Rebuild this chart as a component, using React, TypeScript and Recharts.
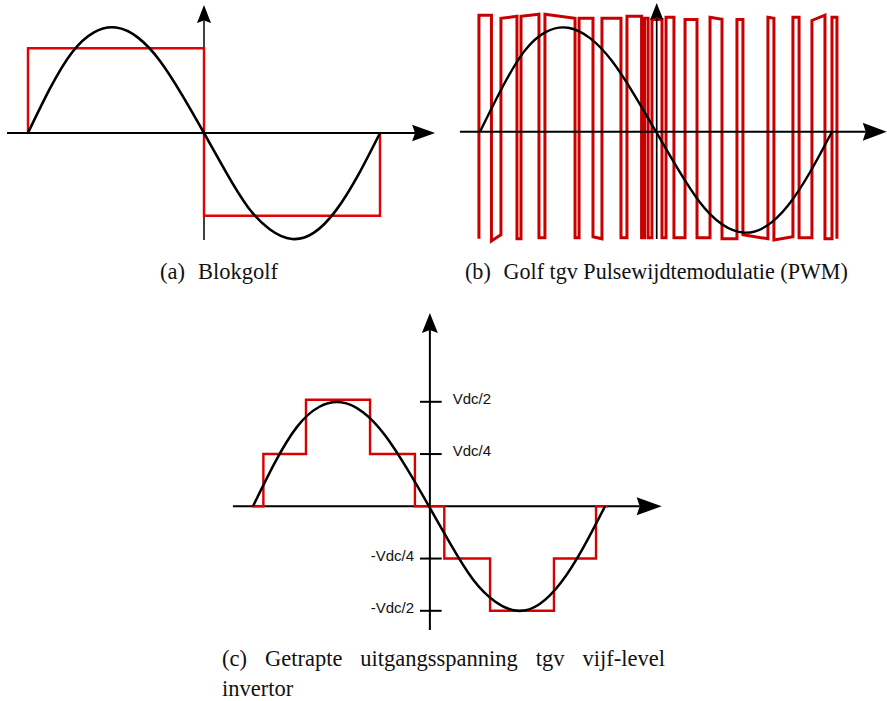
import React from 'react';
import { LineChart, Line, XAxis, YAxis, ReferenceLine } from 'recharts';

// ---- waveform values (x in half periods, y in units of the sine amplitude) ----

// reference sine, read every eighth of a half period; the positive lobe leans a little left
const sineX = [0, 0.125, 0.25, 0.375, 0.5, 0.625, 0.75, 0.875, 1, 1.125, 1.25, 1.375, 1.5, 1.625, 1.75, 1.875, 2];
const sineY = [0, 0.42, 0.76, 0.95, 0.995, 0.9, 0.68, 0.36, 0, -0.37, -0.7, -0.91, -1, -0.94, -0.73, -0.4, 0];
const sineYPwm = [0, 0.42, 0.77, 0.96, 1.0, 0.9, 0.68, 0.36, 0, -0.36, -0.68, -0.89, -0.97, -0.91, -0.71, -0.39, 0];

// (a) square wave
const squareX = [0, 0, 1, 2];
const squareY = [0, 0.8, -0.78, 0];

// (b) PWM switching instants and the level at the start / end of each pulse
const pwmEdges = [
  -0.006, 0.065, 0.119, 0.21, 0.233, 0.335, 0.369, 0.54, 0.563, 0.642, 0.693, 0.801,
  0.835, 0.918, 0.935, 0.955, 0.977, 1.034, 1.057, 1.102, 1.165, 1.233,
  1.307, 1.375, 1.46, 1.494, 1.636, 1.67, 1.778, 1.813, 1.886, 1.96, 2.0, 2.028,
];
const pwmStart = [
  1.12, -1.05, 1.09, -1.03, 1.11, -1.02, 1.13, -1.02, 1.09, -1.01, 1.09, -1.02,
  1.11, -1.02, 1.09, -1.02, 1.08, -1.02, 1.1, -1.02, 1.08, -1.02,
  1.1, -1.03, 1.08, -0.99, 1.1, -1.04, 1.1, -1.02, 1.07, -1.03, 1.1,
];
const pwmEnd = [
  1.12, -0.99, 1.11, -1.03, 1.13, -1.02, 1.09, -1.02, 1.09, -1.03, 1.09, -1.02,
  1.11, -1.02, 1.09, -1.02, 1.08, -1.02, 1.1, -1.02, 1.08, -1.02,
  1.08, -1.03, 1.08, -1.03, 1.09, -1.01, 1.1, -1.02, 1.12, -1.03, 1.1,
];
const pwmRest = -1.03;

// (c) five-level staircase
const stepX = [-0.007, 0.059, 0.301, 0.665, 0.92, 1.087, 1.347, 1.71, 1.949, 2.017];
const stepY = [0, 0.5, 1.02, 0.5, 0, -0.5, -1, -0.5, 0, 0];

// (c) level ticks on the vertical axis
const levelValues = [1, 0.5, -0.5, -1];
const levelLabels = ['Vdc/2', 'Vdc/4', '-Vdc/4', '-Vdc/2'];

const captionA = ['(a)', 'Blokgolf'];
const captionB = ['(b)', 'Golf tgv Pulsewijdtemodulatie (PWM)'];
const captionC = ['(c) Getrapte uitgangsspanning tgv vijf-level', 'invertor'];

// ---- build series ----
const zip = (xs: number[], ys: number[]) => xs.map((x, i) => ({ x, y: ys[i] }));

const sineData = zip(sineX, sineY);
const sinePwmData = zip(sineX, sineYPwm);
const squareData = zip(squareX, squareY);
const stepData = zip(stepX, stepY);

const pwmData = (() => {
  const pts: { x: number; y: number }[] = [{ x: pwmEdges[0], y: pwmRest }];
  for (let i = 0; i < pwmStart.length; i++) {
    pts.push({ x: pwmEdges[i], y: pwmStart[i] });
    pts.push({ x: pwmEdges[i + 1], y: pwmEnd[i] });
  }
  pts.push({ x: pwmEdges[pwmEdges.length - 1], y: pwmRest });
  return pts;
})();

// ---- layout: chart box on the page, page position of the data origin, px per unit ----
type Box = { left: number; top: number; width: number; height: number; ox: number; oy: number; sx: number; sy: number };
const BOX_A: Box = { left: 0, top: 0, width: 445, height: 250, ox: 28, oy: 133, sx: 176, sy: 106 };
const BOX_B: Box = { left: 450, top: 0, width: 437, height: 250, ox: 480, oy: 131.7, sx: 176, sy: 104 };
const BOX_C: Box = { left: 220, top: 300, width: 460, height: 340, ox: 253, oy: 506.3, sx: 176, sy: 104.5 };

const xDomain = (b: Box): [number, number] => [(b.left - b.ox) / b.sx, (b.left + b.width - b.ox) / b.sx];
const yDomain = (b: Box): [number, number] => [(b.oy - (b.top + b.height)) / b.sy, (b.oy - b.top) / b.sy];

// axis line ending in a filled arrow head with a slightly hollow back
const arrowShape = (head: number, half: number, notch: number, width: number) => (p: any) => {
  const { x1, y1, x2, y2 } = p;
  const dx = x2 - x1;
  const dy = y2 - y1;
  const len = Math.hypot(dx, dy) || 1;
  const ux = dx / len;
  const uy = dy / len;
  const nx = -uy;
  const ny = ux;
  const bx = x2 - ux * head;
  const by = y2 - uy * head;
  const mx = x2 - ux * (head - notch);
  const my = y2 - uy * (head - notch);
  const pts = `${x2},${y2} ${bx + nx * half},${by + ny * half} ${mx},${my} ${bx - nx * half},${by - ny * half}`;
  return (
    <g>
      <line x1={x1} y1={y1} x2={mx} y2={my} stroke="#000" strokeWidth={width} />
      <polygon points={pts} fill="#000" />
    </g>
  );
};

// short tick across the vertical axis with its level name
const levelTick = (label: string, positive: boolean) => (p: any) => {
  const { x1, y1, x2, y2 } = p;
  return (
    <g>
      <line x1={x1} y1={y1} x2={x2} y2={y2} stroke="#000" strokeWidth={2} />
      <text
        x={positive ? x2 + 11 : x1 - 6}
        y={y1 + 2}
        textAnchor={positive ? 'start' : 'end'}
        fontFamily="'Liberation Sans', Arial, sans-serif"
        fontSize={15}
        fill="#111"
      >
        {label}
      </text>
    </g>
  );
};

const Frame: React.FC<{ box: Box; children: React.ReactNode }> = ({ box, children }) => (
  <div style={{ position: 'absolute', left: box.left, top: box.top }}>
    <LineChart width={box.width} height={box.height} margin={{ top: 0, right: 0, bottom: 0, left: 0 }}>
      <XAxis type="number" dataKey="x" domain={xDomain(box)} allowDataOverflow hide height={0} />
      <YAxis type="number" dataKey="y" domain={yDomain(box)} allowDataOverflow hide width={0} />
      {children}
    </LineChart>
  </div>
);

const captionStyle: React.CSSProperties = {
  position: 'absolute',
  fontFamily: "'Liberation Serif', 'Times New Roman', serif",
  fontSize: 22.5,
  lineHeight: '22.5px',
  color: '#111',
  whiteSpace: 'nowrap',
};

export default function App() {
  return (
    <div style={{ position: 'absolute', left: 0, top: 0, width: 887, height: 701, background: '#fff', overflow: 'hidden' }}>
      {/* (a) square wave */}
      <Frame box={BOX_A}>
        <ReferenceLine zIndex={100} ifOverflow="visible" segment={[{ x: -0.119, y: 0 }, { x: 2.313, y: 0 }]} shape={arrowShape(23, 8.3, 3, 2)} />
        <ReferenceLine zIndex={100} ifOverflow="visible" segment={[{ x: 1, y: -1.009 }, { x: 1, y: 1.208 }]} shape={arrowShape(18, 7, 2.5, 1.5)} />
        <Line zIndex={450} data={squareData} dataKey="y" type="stepAfter" stroke="#e60000" strokeWidth={2.4} dot={false} activeDot={false} isAnimationActive={false} />
        <Line zIndex={460} data={sineData} dataKey="y" type="natural" stroke="#000" strokeWidth={2.6} dot={false} activeDot={false} isAnimationActive={false} />
      </Frame>

      {/* (b) PWM */}
      <Frame box={BOX_B}>
        <Line zIndex={450} data={pwmData} dataKey="y" type="linear" stroke="#c80000" strokeWidth={3} strokeLinejoin="miter" dot={false} activeDot={false} isAnimationActive={false} />
        <Line zIndex={460} data={sinePwmData} dataKey="y" type="natural" stroke="#000" strokeWidth={2.4} dot={false} activeDot={false} isAnimationActive={false} />
        <ReferenceLine zIndex={700} ifOverflow="visible" segment={[{ x: -0.114, y: 0 }, { x: 2.311, y: 0 }]} shape={arrowShape(24, 9, 3, 2)} />
        <ReferenceLine zIndex={700} ifOverflow="visible" segment={[{ x: 1.004, y: -1.032 }, { x: 1.004, y: 1.2375 }]} shape={arrowShape(17, 6.7, 2.5, 1.7)} />
      </Frame>

      {/* (c) five-level staircase */}
      <Frame box={BOX_C}>
        <ReferenceLine zIndex={100} ifOverflow="visible" segment={[{ x: -0.114, y: 0 }, { x: 2.322, y: 0 }]} shape={arrowShape(25, 9, 3, 2)} />
        <ReferenceLine zIndex={100} ifOverflow="visible" segment={[{ x: 1.005, y: -1.184 }, { x: 1.005, y: 1.85 }]} shape={arrowShape(20, 8, 3, 2)} />
        {levelValues.map((v, i) => (
          <ReferenceLine
            key={levelLabels[i]}
            zIndex={100}
            ifOverflow="visible"
            segment={[{ x: 0.949, y: v }, { x: 1.072, y: v }]}
            shape={levelTick(levelLabels[i], v > 0)}
          />
        ))}
        <Line zIndex={450} data={stepData} dataKey="y" type="stepAfter" stroke="#d90000" strokeWidth={2.4} dot={false} activeDot={false} isAnimationActive={false} />
        <Line zIndex={460} data={sineData} dataKey="y" type="natural" stroke="#000" strokeWidth={2.5} dot={false} activeDot={false} isAnimationActive={false} />
      </Frame>

      {/* captions */}
      <div style={{ ...captionStyle, left: 160, top: 260.5 }}>
        <span style={{ marginRight: '0.33em' }}>{captionA[0]}</span> {captionA[1]}
      </div>
      <div style={{ ...captionStyle, left: 465, top: 260.5, fontSize: 22.1 }}>
        <span style={{ marginRight: '0.33em' }}>{captionB[0]}</span> {captionB[1]}
      </div>
      <div
        style={{
          ...captionStyle,
          left: 222,
          top: 648,
          width: 443,
          whiteSpace: 'normal',
          textAlign: 'justify',
          textAlignLast: 'justify',
        }}
      >
        {captionC[0]}
      </div>
      <div style={{ ...captionStyle, left: 222, top: 678 }}>{captionC[1]}</div>
    </div>
  );
}
